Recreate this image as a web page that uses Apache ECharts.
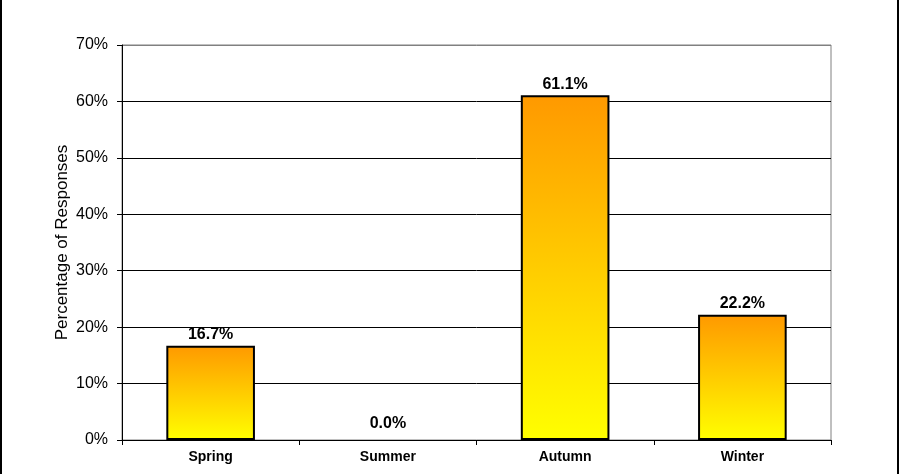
<!DOCTYPE html>
<html>
<head>
<meta charset="utf-8">
<script src="https://cdn.jsdelivr.net/npm/echarts@6/dist/echarts.min.js"></script>
<style>
  html, body { margin: 0; padding: 0; background: #fff; }
  #chart { width: 903px; height: 474px; }
</style>
</head>
<body>
<div id="chart"></div>
<script>
var seasons = ['Spring', 'Summer', 'Autumn', 'Winter'];
var responses = [16.7, 0.0, 61.1, 22.2];
var yTicks = [0, 10, 20, 30, 40, 50, 60, 70];

var myChart = echarts.init(document.getElementById('chart'));

var barFill = new echarts.graphic.LinearGradient(0, 0, 0, 1, [
	{ offset: 0, color: '#FF9900' },
	{ offset: 0.5, color: '#FFCC00' },
	{ offset: 1, color: '#FFFF00' }
]);

// Excel draws the zero label a bit higher than the axis, and no outline
var barData = responses.map(function (v) {
	if (v === 0) {
		return { value: v, itemStyle: { borderWidth: 0 }, label: { offset: [0, -5] } };
	}
	return v;
});

// top gridline is the grey plot border, rest black
var splitColors = yTicks.map(function (t, i) {
	return i === yTicks.length - 1 ? '#808080' : '#000000';
});

var option = {
	backgroundColor: '#ffffff',
	animation: false,
	textStyle: { fontFamily: 'Liberation Sans, Arial, sans-serif' },
	grid: {
		left: 122,
		top: 45,
		right: 72,
		bottom: 34,
		show: true,
		borderColor: '#808080',
		borderWidth: 1
	},
	xAxis: {
		type: 'category',
		data: seasons,
		axisLine: { lineStyle: { color: '#000', width: 1 } },
		axisTick: { show: true, alignWithLabel: false, length: 5, lineStyle: { color: '#000' } },
		axisLabel: {
			color: '#000',
			fontWeight: 'bold',
			fontSize: 14,
			margin: 10
		}
	},
	yAxis: {
		type: 'value',
		min: 0,
		max: 70,
		interval: 10,
		name: 'Percentage of Responses',
		nameLocation: 'middle',
		nameGap: 51,
		nameMoveOverlap: false,
		nameTextStyle: { color: '#000', fontSize: 17 },
		axisLine: { show: true, lineStyle: { color: '#000', width: 1 } },
		axisTick: { show: true, length: 5, lineStyle: { color: '#000' } },
		axisLabel: {
			color: '#000',
			fontSize: 16,
			margin: 14,
			formatter: '{value}%'
		},
		splitLine: { show: true, lineStyle: { color: splitColors, width: 1 } }
	},
	series: [{
		name: 'Responses',
		type: 'bar',
		data: barData,
		barWidth: '50%',
		itemStyle: {
			color: barFill,
			borderColor: '#000',
			borderWidth: 2
		},
		label: {
			show: true,
			position: 'top',
			distance: 3,
			color: '#000',
			fontWeight: 'bold',
			fontSize: 16,
			formatter: function (p) { return p.value.toFixed(1) + '%'; }
		}
	}],
	graphic: [{
		type: 'rect',
		shape: { x: 1, y: -10, width: 897, height: 500 },
		style: { fill: 'none', stroke: '#000', lineWidth: 2 },
		silent: true
	}]
};

myChart.setOption(option);
</script>
</body>
</html>
